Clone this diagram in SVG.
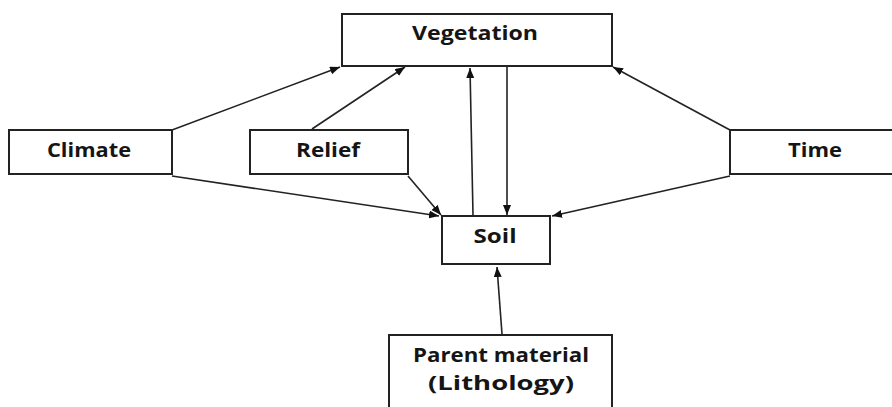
<svg xmlns="http://www.w3.org/2000/svg" width="892" height="407" viewBox="0 0 892 407">
<defs>
<style>
.box{fill:#fff;stroke:#222;stroke-width:2}
.lbl{font-family:"Open Sans","Liberation Sans",sans-serif;font-weight:700;font-size:19px;fill:#151515;text-anchor:middle}
.ln{stroke:#222;stroke-width:1.6;fill:none;marker-end:url(#ah)}
</style>
<marker id="ah" markerUnits="userSpaceOnUse" markerWidth="11" markerHeight="9" refX="10" refY="4" orient="auto">
<path d="M0,0 L10,4 L0,8 z" fill="#111"/>
</marker>
</defs>
<rect width="892" height="407" fill="#fff"/>
<g id="connectors">
<line class="ln" x1="172" y1="130" x2="340" y2="67"/>
<line class="ln" x1="312" y1="129" x2="405" y2="67"/>
<line class="ln" x1="473" y1="215" x2="470" y2="68"/>
<line class="ln" x1="507" y1="67" x2="507" y2="215"/>
<line class="ln" x1="730" y1="130" x2="613" y2="67"/>
<line class="ln" x1="172" y1="176" x2="439" y2="216"/>
<line class="ln" x1="408" y1="176" x2="441" y2="215"/>
<line class="ln" x1="730" y1="176" x2="552" y2="216"/>
<line class="ln" x1="502" y1="334" x2="497" y2="267"/>
</g>
<g id="vegetation">
<rect class="box" x="342" y="14" width="270" height="52"/>
<text class="lbl" x="475" y="40" textLength="126" lengthAdjust="spacingAndGlyphs">Vegetation</text>
</g>
<g id="climate">
<rect class="box" x="9" y="130" width="163" height="44"/>
<text class="lbl" x="89" y="157" textLength="84" lengthAdjust="spacingAndGlyphs">Climate</text>
</g>
<g id="relief">
<rect class="box" x="250" y="130" width="158" height="44"/>
<text class="lbl" x="328" y="157" textLength="64" lengthAdjust="spacingAndGlyphs">Relief</text>
</g>
<g id="time">
<rect class="box" x="730" y="130" width="170" height="44"/>
<text class="lbl" x="815" y="157" textLength="54" lengthAdjust="spacingAndGlyphs">Time</text>
</g>
<g id="soil">
<rect class="box" x="442" y="216" width="108" height="48"/>
<text class="lbl" x="495" y="243" textLength="43" lengthAdjust="spacingAndGlyphs">Soil</text>
</g>
<g id="parent-material">
<rect class="box" x="389" y="335" width="223" height="90"/>
<text class="lbl" x="501" y="362" textLength="176" lengthAdjust="spacingAndGlyphs">Parent material</text>
<text class="lbl" x="501" y="390" textLength="146" lengthAdjust="spacingAndGlyphs">(Lithology)</text>
</g>
</svg>
